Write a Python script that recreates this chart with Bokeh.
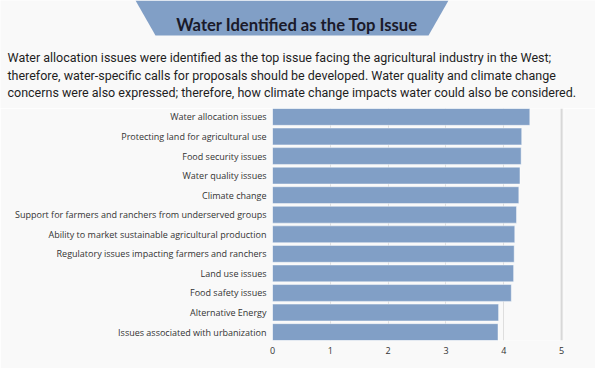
from bokeh.plotting import figure
from bokeh.models import ColumnDataSource, Range1d, FixedTicker, Span
from bokeh.embed import file_html
from bokeh.resources import INLINE
from bokeh.core.properties import value

categories = [
    "Water allocation issues",
    "Protecting land for agricultural use",
    "Food security issues",
    "Water quality issues",
    "Climate change",
    "Support for farmers and ranchers from underserved groups",
    "Ability to market sustainable agricultural production",
    "Regulatory issues impacting farmers and ranchers",
    "Land use issues",
    "Food safety issues",
    "Alternative Energy",
    "Issues associated with urbanization",
]
values = [4.45, 4.31, 4.30, 4.28, 4.26, 4.22, 4.19, 4.18, 4.17, 4.13, 3.91, 3.90]
x_ticks = [0, 1, 2, 3, 4, 5]
title_text = "Water Identified as the Top Issue"
subtitle_lines = [
    "Water allocation issues were identified as the top issue facing the agricultural industry in the West;",
    "therefore, water-specific calls for proposals should be developed. Water quality and climate change",
    "concerns were also expressed; therefore, how climate change impacts water could also be considered.",
]

BG = "#f9f9f9"
BAR = "#819fc6"
W = 595
HEAD_H = 108

# ---- header (its ranges follow page pixels) ----
head = figure(width=W, height=HEAD_H, x_range=Range1d(0, W), y_range=Range1d(HEAD_H, 0),
              x_axis_type=None, y_axis_type=None, toolbar_location=None,
              output_backend="svg", min_border=0, background_fill_color=BG,
              border_fill_color=BG, outline_line_color=None)
head.patch([135, 448, 428, 155], [0, 0, 35, 35], fill_color=BAR, line_color=None)
head.text(x=[296.5], y=[24], text=[title_text], text_font=value("Lato"),
          text_font_style="bold", text_font_size="16.6px", text_align="center",
          text_baseline="alphabetic", text_color="#1a1a2a")
head.text(x=[7, 7, 7], y=[56.7, 74.5, 92.3], text=subtitle_lines, text_font=value("Roboto"),
          text_font_size="12.5px", text_align="left", text_baseline="alphabetic",
          text_color="#1e1e1e")

# ---- chart ----
FL, FT, FW, FH = 272, 108, 292, 232   # frame on the page
n = len(categories)
src = ColumnDataSource(dict(y=list(range(n)), value=values, label=categories))
p = figure(frame_width=FW, frame_height=FH, x_range=Range1d(0, 5.05),
           y_range=Range1d(n - 1 + 0.43, -0.43), toolbar_location=None,
           output_backend="svg", min_border_left=FL, min_border_right=W - FL - FW,
           min_border_top=FT - HEAD_H, min_border_bottom=368 - FT - FH,
           background_fill_color=BG, border_fill_color=BG, outline_line_color=None)
p.hbar(y="y", right="value", left=0, height=0.86, source=src, fill_color=BAR,
       line_color="#ffffff", line_alpha=0.45, line_width=1)

p.xaxis.ticker = FixedTicker(ticks=x_ticks)
p.yaxis.ticker = FixedTicker(ticks=list(range(n)))
p.yaxis.major_label_overrides = {i: c for i, c in enumerate(categories)}
for ax in (p.xaxis[0], p.yaxis[0]):
    ax.axis_line_color = None
    ax.major_tick_line_color = None
    ax.minor_tick_line_color = None
    ax.major_tick_out = 0
    ax.major_tick_in = 0
    ax.major_label_standoff = 6
    ax.major_label_text_font = "Open Sans"
    ax.major_label_text_font_size = "9px"
    ax.major_label_text_color = "#333333"

p.ygrid.visible = False
p.xgrid.ticker = FixedTicker(ticks=[1, 2, 3, 4])
p.xgrid.grid_line_color = "#dedede"
p.xgrid.grid_line_width = 1
p.add_layout(Span(location=5, dimension="height", line_color="#d8d8d8", line_width=2))

open("out.html", "w").write(file_html([head, p], INLINE))
